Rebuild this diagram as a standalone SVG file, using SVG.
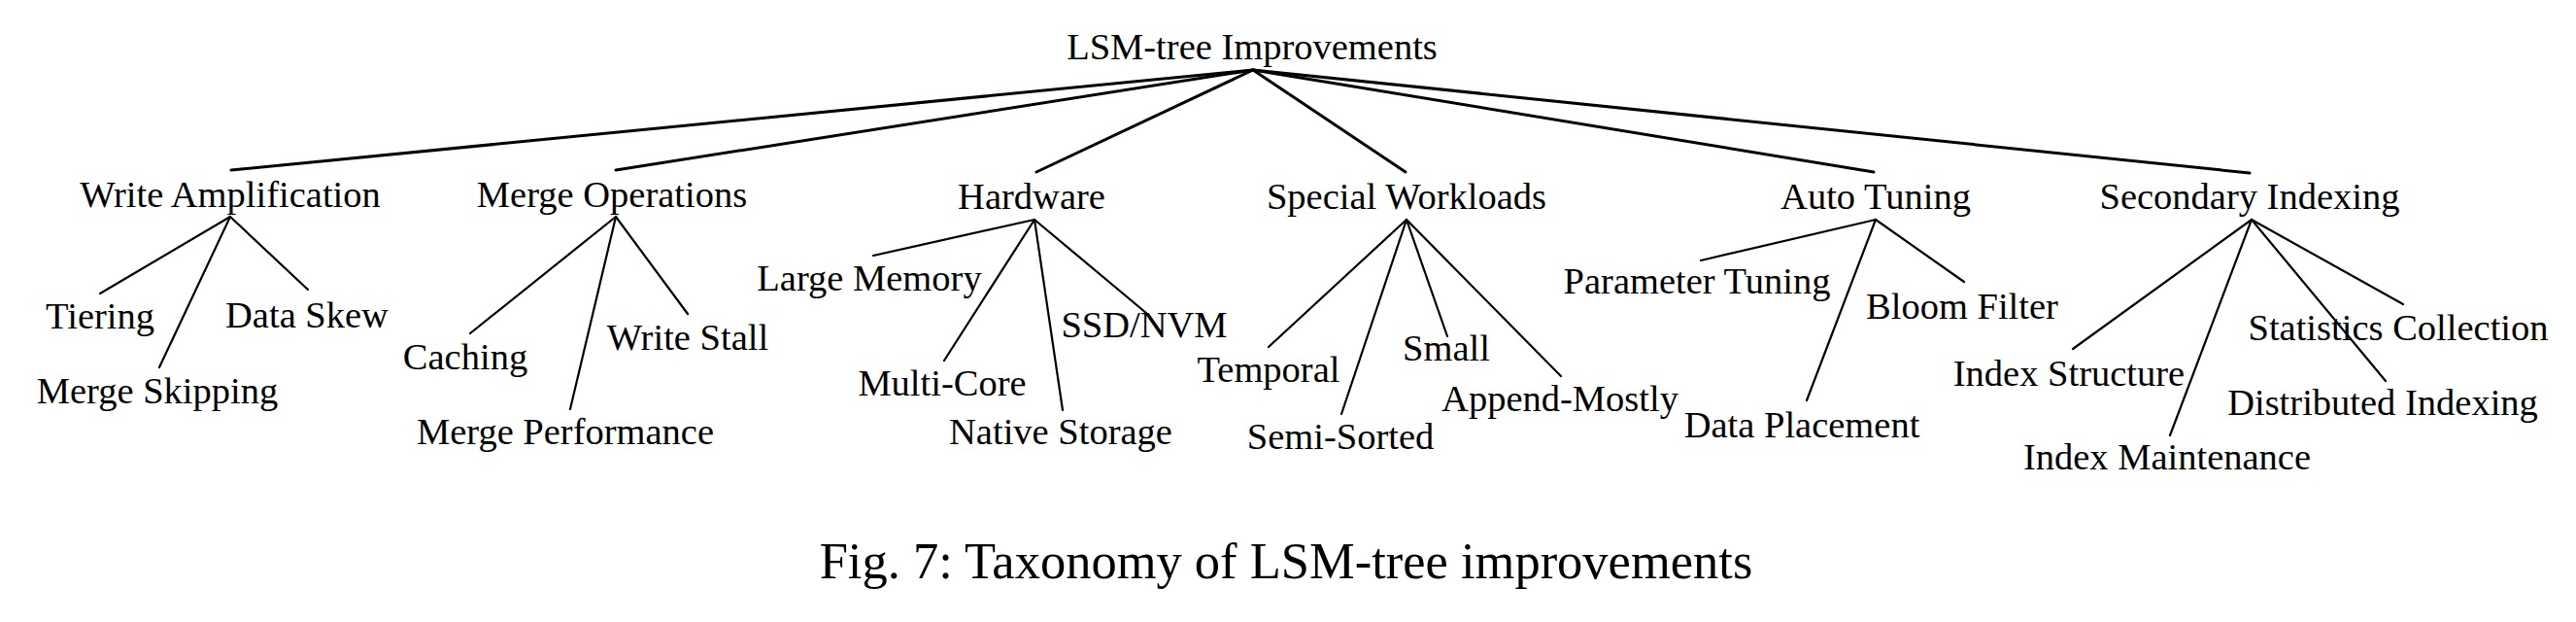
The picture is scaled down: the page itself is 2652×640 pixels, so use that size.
<svg xmlns="http://www.w3.org/2000/svg" width="2652" height="640" viewBox="0 0 2652 640">
<style>
text{font-family:"Liberation Serif","Times New Roman",serif;font-size:38.5px;fill:#000;text-anchor:middle}
.cap{font-size:52.5px}
.l1 line{stroke:#000;stroke-width:3;stroke-linecap:round}
.l2 line{stroke:#000;stroke-width:2.2;stroke-linecap:round}
</style>
<rect width="2652" height="640" fill="#fff"/>
<g id="connectors">
<g class="l1">
<line x1="1290" y1="72" x2="238" y2="175"/>
<line x1="1290" y1="72" x2="634" y2="175"/>
<line x1="1290" y1="72" x2="1067" y2="177"/>
<line x1="1290" y1="72" x2="1447" y2="177"/>
<line x1="1290" y1="72" x2="1929" y2="177"/>
<line x1="1290" y1="72" x2="2316" y2="178"/>
</g>
<g class="l2">
<line x1="237" y1="223" x2="103" y2="302"/>
<line x1="237" y1="223" x2="164" y2="378"/>
<line x1="237" y1="223" x2="317" y2="298"/>
<line x1="634" y1="223" x2="484" y2="343"/>
<line x1="634" y1="223" x2="587" y2="421"/>
<line x1="634" y1="223" x2="708" y2="323"/>
<line x1="1065" y1="226" x2="899" y2="263"/>
<line x1="1065" y1="226" x2="972" y2="371"/>
<line x1="1065" y1="226" x2="1094" y2="422"/>
<line x1="1065" y1="226" x2="1180" y2="322"/>
<line x1="1448" y1="226" x2="1306" y2="357"/>
<line x1="1448" y1="226" x2="1381" y2="426"/>
<line x1="1448" y1="226" x2="1490" y2="346"/>
<line x1="1448" y1="226" x2="1607" y2="387"/>
<line x1="1931" y1="226" x2="1751" y2="268"/>
<line x1="1931" y1="226" x2="1860" y2="412"/>
<line x1="1931" y1="226" x2="2022" y2="290"/>
<line x1="2318" y1="226" x2="2134" y2="359"/>
<line x1="2318" y1="226" x2="2234" y2="448"/>
<line x1="2318" y1="226" x2="2456" y2="392"/>
<line x1="2318" y1="226" x2="2474" y2="313"/>
</g>
</g>
<g id="root"><text x="1289" y="61">LSM-tree Improvements</text></g>
<g id="write-amplification"><text x="237" y="213">Write Amplification</text></g>
<g id="merge-operations"><text x="630" y="213">Merge Operations</text></g>
<g id="hardware"><text x="1062" y="215">Hardware</text></g>
<g id="special-workloads"><text x="1448" y="215">Special Workloads</text></g>
<g id="auto-tuning"><text x="1931" y="215">Auto Tuning</text></g>
<g id="secondary-indexing"><text x="2316" y="215">Secondary Indexing</text></g>
<g id="tiering"><text x="103" y="338">Tiering</text></g>
<g id="data-skew"><text x="316" y="337">Data Skew</text></g>
<g id="merge-skipping"><text x="162" y="415">Merge Skipping</text></g>
<g id="caching"><text x="479" y="380">Caching</text></g>
<g id="write-stall"><text x="708" y="360">Write Stall</text></g>
<g id="merge-performance"><text x="582" y="457">Merge Performance</text></g>
<g id="large-memory"><text x="895" y="299">Large Memory</text></g>
<g id="ssd-nvm"><text x="1178" y="347">SSD/NVM</text></g>
<g id="multi-core"><text x="970" y="407">Multi-Core</text></g>
<g id="native-storage"><text x="1092" y="457">Native Storage</text></g>
<g id="temporal"><text x="1306" y="393">Temporal</text></g>
<g id="small"><text x="1489" y="371">Small</text></g>
<g id="append-mostly"><text x="1606" y="423">Append-Mostly</text></g>
<g id="semi-sorted"><text x="1380" y="462">Semi-Sorted</text></g>
<g id="parameter-tuning"><text x="1747" y="302">Parameter Tuning</text></g>
<g id="bloom-filter"><text x="2020" y="328">Bloom Filter</text></g>
<g id="data-placement"><text x="1855" y="450">Data Placement</text></g>
<g id="statistics-collection"><text x="2469" y="350">Statistics Collection</text></g>
<g id="index-structure"><text x="2130" y="397">Index Structure</text></g>
<g id="distributed-indexing"><text x="2453" y="427">Distributed Indexing</text></g>
<g id="index-maintenance"><text x="2231" y="483">Index Maintenance</text></g>
<g id="caption"><text class="cap" x="1324" y="595">Fig. 7: Taxonomy of LSM-tree improvements</text></g>
</svg>
